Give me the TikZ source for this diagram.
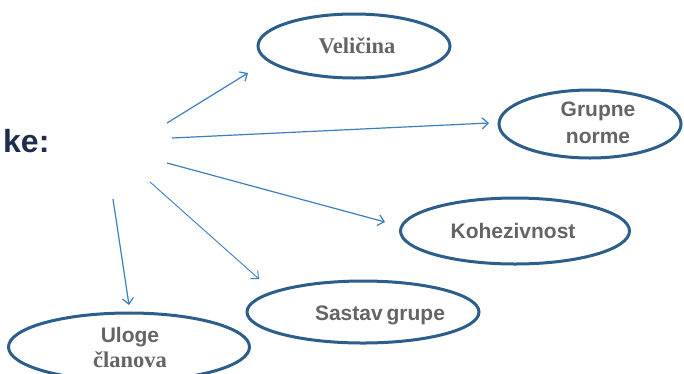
\documentclass[tikz,border=0pt]{standalone}
\usepackage{fontspec}
\setmainfont{Liberation Serif}
\setsansfont{Liberation Sans}
\usetikzlibrary{shapes.geometric,arrows.meta}
\definecolor{ringblue}{RGB}{44,94,140}
\definecolor{arrowblue}{RGB}{58,127,193}
\definecolor{labelgray}{RGB}{100,100,100}
\definecolor{titlenavy}{RGB}{31,45,77}
\tikzset{
  ring/.style={draw=ringblue, line width=3pt, ellipse, inner sep=0pt},
  sanslbl/.style={text=labelgray, font=\sffamily\bfseries\fontsize{21}{26}\selectfont, align=center, inner sep=0pt},
  seriflbl/.style={text=labelgray, font=\rmfamily\bfseries\fontsize{22.5}{26}\selectfont, align=center, inner sep=0pt},
  link/.style={draw=arrowblue, line width=1.2pt, -{Straight Barb[length=6pt,width=11pt]}}
}
\begin{document}
\begin{tikzpicture}[x=1pt,y=-1pt]
\useasboundingbox (0,0) rectangle (684,373);
\clip (0,0) rectangle (684,373);

% heading fragment
\node[anchor=base west, inner sep=0pt, text=titlenavy,
      font=\sffamily\bfseries\fontsize{32}{36}\selectfont] (head) at (3,152) {ke:};

% the five ellipses
\node[ring, minimum width=192pt, minimum height=64pt] (vel) at (354,46) {};
\node[ring, minimum width=182pt, minimum height=68pt] (gn)  at (590,124) {};
\node[ring, minimum width=229pt, minimum height=66pt] (koh) at (515,231) {};
\node[ring, minimum width=232pt, minimum height=62pt] (sas) at (363,312) {};
\node[ring, minimum width=241pt, minimum height=68pt] (ulo) at (129,347) {};

% labels
\node[seriflbl, anchor=base] (velt) at (357,53) {Veličina};
\node[sanslbl, anchor=base] (gnt1) at (598,116) {Grupne};
\node[sanslbl, anchor=base] (gnt2) at (598,143) {norme};
\node[sanslbl, anchor=base] (koht) at (513,238) {Kohezivnost};
\node[sanslbl, anchor=base] (sast) at (380,320) {Sastav\hspace{-2pt} grupe};
\node[sanslbl, anchor=base] (ulot1) at (130,342) {Uloge};
\node[seriflbl, anchor=base] (ulot2) at (130,367) {članova};

% arrow end points
\coordinate (s1) at (167,123);  \coordinate (e1) at (248,73);
\coordinate (s2) at (172,138);  \coordinate (e2) at (489,123);
\coordinate (s3) at (167,163);  \coordinate (e3) at (385,222);
\coordinate (s4) at (150,182);  \coordinate (e4) at (259,279);
\coordinate (s5) at (113,199);  \coordinate (e5) at (129,305);

\draw[link] (s1) -- (e1);
\draw[link] (s2) -- (e2);
\draw[link] (s3) -- (e3);
\draw[link, line width=0.9pt] (s4) -- (e4);
\draw[link] (s5) -- (e5);
\end{tikzpicture}
\end{document}
